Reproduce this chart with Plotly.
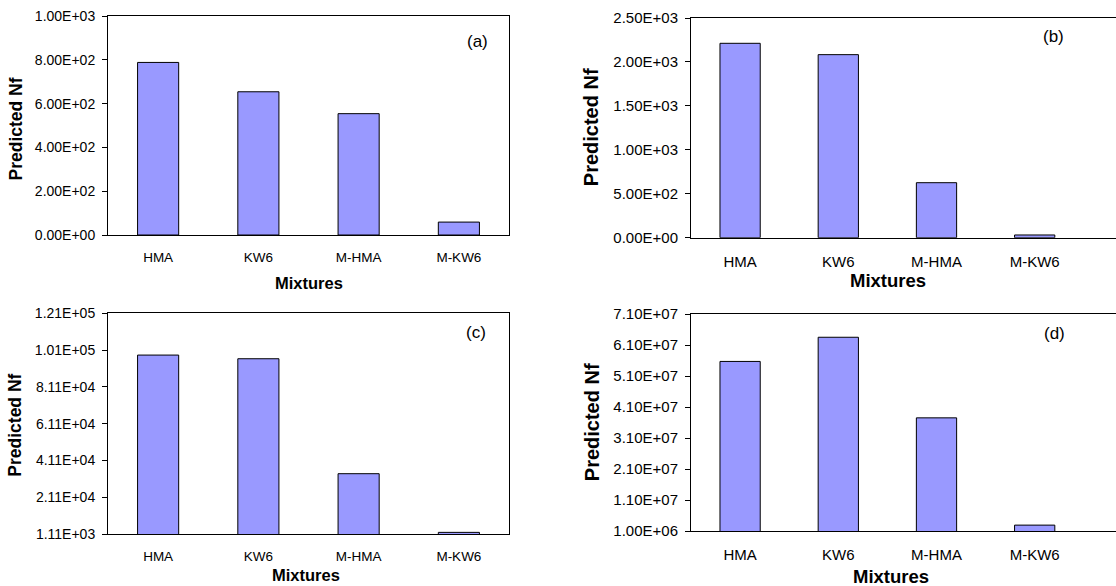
import plotly.graph_objects as go

categories = ["HMA", "KW6", "M-HMA", "M-KW6"]

nf_a = [788, 654, 554, 59]
nf_b = [2212, 2083, 626, 31]
nf_c = [98400, 96400, 33900, 2000]
nf_d = [55.7e6, 63.5e6, 37.5e6, 2.9e6]

ticks_a = [0, 200, 400, 600, 800, 1000]
labels_a = ["0.00E+00", "2.00E+02", "4.00E+02", "6.00E+02", "8.00E+02", "1.00E+03"]
ticks_b = [0, 500, 1000, 1500, 2000, 2500]
labels_b = ["0.00E+00", "5.00E+02", "1.00E+03", "1.50E+03", "2.00E+03", "2.50E+03"]
ticks_c = [1110, 21110, 41110, 61110, 81110, 101110, 121110]
labels_c = ["1.11E+03", "2.11E+04", "4.11E+04", "6.11E+04", "8.11E+04", "1.01E+05", "1.21E+05"]
ticks_d = [1e6, 1.1e7, 2.1e7, 3.1e7, 4.1e7, 5.1e7, 6.1e7, 7.1e7]
labels_d = ["1.00E+06", "1.10E+07", "2.10E+07", "3.10E+07", "4.10E+07", "5.10E+07", "6.10E+07", "7.10E+07"]

panel_tags = ["(a)", "(b)", "(c)", "(d)"]

FONT = "Arial, Liberation Sans, sans-serif"
BAR_COLOR = "#9999FF"
W, H = 1116, 586


def px_x(v):
    return v / W


def px_y(v):
    return 1 - v / H


panels = [
    dict(v=nf_a, tv=ticks_a, tt=labels_a, xd=(108, 509), yd=(16, 235), yr=[0, 1000],
         xr=[-0.5, 3.5], big=False, mirror=True),
    dict(v=nf_b, tv=ticks_b, tt=labels_b, xd=(691, 1116), yd=(18, 237.7), yr=[0, 2500],
         xr=[-0.5, 3.828], big=True, mirror=False),
    dict(v=nf_c, tv=ticks_c, tt=labels_c, xd=(108, 509), yd=(313.3, 534), yr=[1110, 121110],
         xr=[-0.5, 3.5], big=False, mirror=True),
    dict(v=nf_d, tv=ticks_d, tt=labels_d, xd=(691, 1116), yd=(314, 531), yr=[1e6, 7.1e7],
         xr=[-0.5, 3.828], big=True, mirror=False),
]

fig = go.Figure()
layout = dict(
    width=W, height=H,
    margin=dict(l=0, r=0, t=0, b=0, autoexpand=False),
    paper_bgcolor="white", plot_bgcolor="white",
    showlegend=False, bargap=0.59,
    font=dict(family=FONT, color="black"),
)

for i, p in enumerate(panels):
    n = "" if i == 0 else str(i + 1)
    fig.add_trace(go.Bar(
        x=categories, y=p["v"], xaxis="x" + n, yaxis="y" + n,
        marker=dict(color=BAR_COLOR, line=dict(color="black", width=1)),
        hoverinfo="x+y",
    ))
    tick_size = 15 if p["big"] else 14
    xt_size = 15 if p["big"] else 13.5
    layout["xaxis" + n] = dict(
        domain=[px_x(p["xd"][0]), px_x(p["xd"][1])],
        anchor="y" + n, type="category", range=p["xr"],
        showline=True, linecolor="black", linewidth=1, mirror=True,
        ticks="", showgrid=False, zeroline=False,
        tickfont=dict(size=xt_size, family=FONT, color="black"),
        ticklabelstandoff=10,
        fixedrange=True, automargin=False,
    )
    layout["yaxis" + n] = dict(
        domain=[px_y(p["yd"][1]), px_y(p["yd"][0])],
        anchor="x" + n, range=p["yr"],
        tickvals=p["tv"], ticktext=p["tt"],
        showline=True, linecolor="black", linewidth=1, mirror=p["mirror"],
        ticks="outside", ticklen=5, tickcolor="black",
        showgrid=False, zeroline=False,
        tickfont=dict(size=tick_size, family=FONT, color="black"),
        ticklabelstandoff=4,
        fixedrange=True, automargin=False,
    )

annotations = []
tag_pos = [(477, 42, 17), (1053, 36, 17), (476, 332, 17), (1054, 333, 17)]
for tag, (x, y, s) in zip(panel_tags, tag_pos):
    annotations.append(dict(text=tag, x=px_x(x), y=px_y(y), xref="paper", yref="paper",
                            showarrow=False, xanchor="center", yanchor="middle",
                            font=dict(size=s, family=FONT, color="black")))
xt_pos = [(308.7, 282.7, 16.5), (887.7, 280, 18.5), (306, 575, 16.5), (891, 576.7, 18.5)]
for (x, y, s) in xt_pos:
    annotations.append(dict(text="<b>Mixtures</b>", x=px_x(x), y=px_y(y), xref="paper", yref="paper",
                            showarrow=False, xanchor="center", yanchor="middle",
                            font=dict(size=s, family=FONT, color="black")))
yt_pos = [(15, 129.5, 17.5), (591.7, 127.5, 20), (15, 425.7, 17.5), (591.7, 422.5, 20)]
for (x, y, s) in yt_pos:
    annotations.append(dict(text="<b>Predicted Nf</b>", x=px_x(x), y=px_y(y), xref="paper", yref="paper",
                            showarrow=False, xanchor="center", yanchor="middle", textangle=-90,
                            font=dict(size=s, family=FONT, color="black")))
layout["annotations"] = annotations

fig.update_layout(**layout)
fig.write_html(
    "out.html",
    config={"displayModeBar": False},
    post_script="document.body.style.margin='0';document.body.style.overflow='hidden';",
)
